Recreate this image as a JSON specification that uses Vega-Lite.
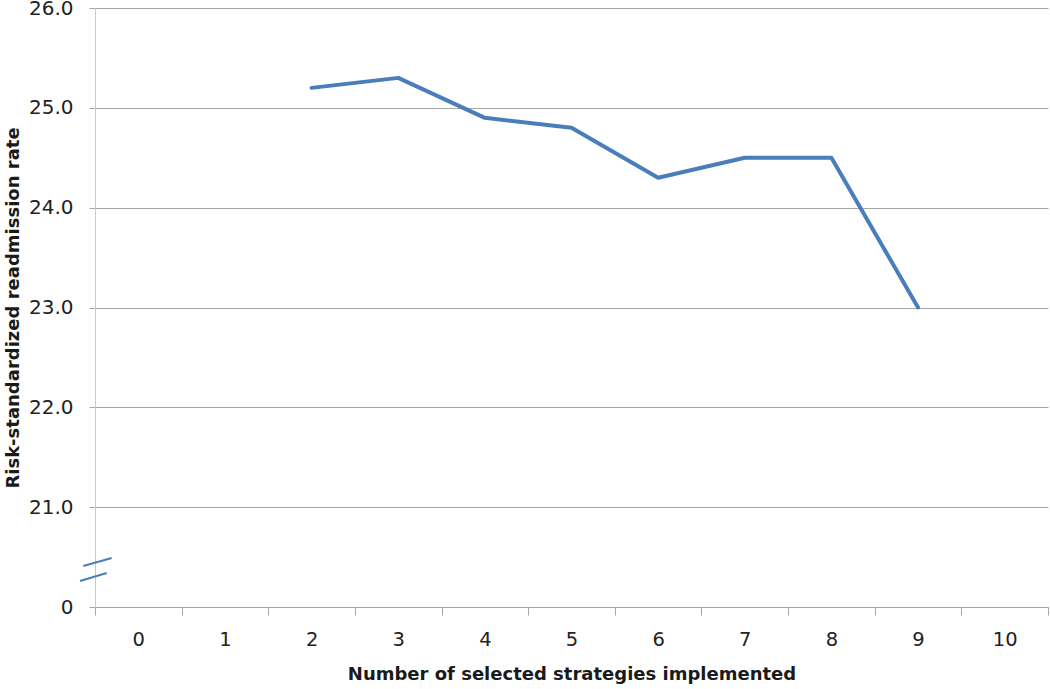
{
  "$schema": "https://vega.github.io/schema/vega-lite/v6.json",
  "width": 953,
  "height": 599,
  "autosize": {"type": "none"},
  "padding": {"left": 95, "top": 8, "right": 2, "bottom": 82},
  "background": "white",
  "config": {
    "view": {"stroke": null},
    "font": "DejaVu Sans"
  },
  "datasets": {
    "rates": [
      {"strategies": 2, "rate": 25.2},
      {"strategies": 3, "rate": 25.3},
      {"strategies": 4, "rate": 24.9},
      {"strategies": 5, "rate": 24.8},
      {"strategies": 6, "rate": 24.3},
      {"strategies": 7, "rate": 24.5},
      {"strategies": 8, "rate": 24.5},
      {"strategies": 9, "rate": 23.0}
    ],
    "axisbreak": [
      {"bx": -0.635, "rate": 20.41, "bx2": -0.307, "rate2": 20.49},
      {"bx": -0.673, "rate": 20.26, "bx2": -0.365, "rate2": 20.34}
    ]
  },
  "layer": [
    {
      "data": {"name": "rates"},
      "mark": {"type": "line", "color": "#4a7ebb", "strokeWidth": 4, "strokeJoin": "round", "strokeCap": "round"},
      "encoding": {
        "x": {
          "field": "strategies",
          "type": "ordinal",
          "scale": {"domain": [0, 1, 2, 3, 4, 5, 6, 7, 8, 9, 10], "paddingInner": 0, "paddingOuter": 0},
          "axis": {
            "title": "Number of selected strategies implemented",
            "titleFont": "DejaVu Sans",
            "titleFontSize": 18,
            "titleFontWeight": "bold",
            "titleColor": "#1a1a1a",
            "titlePadding": 17,
            "labelAngle": 0,
            "labelFontSize": 19.5,
            "labelColor": "#222222",
            "labelPadding": 15,
            "tickBand": "extent",
            "tickSize": 8,
            "tickColor": "#a6a6a6",
            "domainColor": "#a6a6a6",
            "grid": false
          }
        },
        "y": {
          "field": "rate",
          "type": "quantitative",
          "scale": {"domain": [20, 26], "nice": false, "zero": false},
          "axis": {
            "title": "Risk-standardized readmission rate",
            "titleFont": "DejaVu Sans",
            "titleFontSize": 18,
            "titleFontWeight": "bold",
            "titleColor": "#1a1a1a",
            "titlePadding": 6,
            "values": [20, 21, 22, 23, 24, 25, 26],
            "labelExpr": "datum.value == 20 ? '0' : format(datum.value, '.1f')",
            "labelFontSize": 20,
            "labelColor": "#222222",
            "labelPadding": 16,
            "tickSize": 6,
            "tickColor": "#a6a6a6",
            "domainColor": "#c8c8c8",
            "grid": true,
            "gridColor": "#a6a6a6",
            "gridWidth": 1
          }
        }
      }
    },
    {
      "data": {"name": "axisbreak"},
      "mark": {"type": "rule", "color": "#4a7ebb", "strokeWidth": 2, "clip": false},
      "encoding": {
        "x": {"field": "bx", "type": "quantitative", "scale": {"domain": [-0.5, 10.5], "nice": false, "zero": false}, "axis": null},
        "x2": {"field": "bx2"},
        "y": {"field": "rate", "type": "quantitative"},
        "y2": {"field": "rate2"}
      }
    }
  ],
  "resolve": {"scale": {"x": "independent"}, "axis": {"x": "independent"}}
}
